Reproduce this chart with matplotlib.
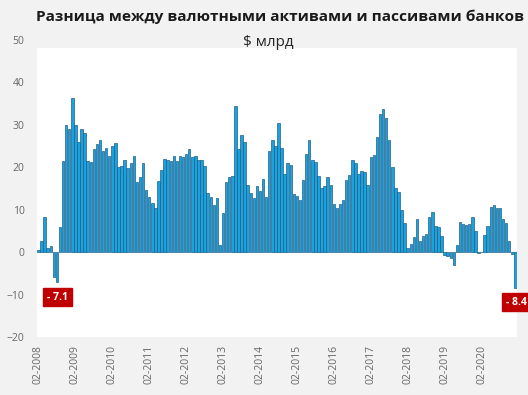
import numpy as np
import matplotlib
matplotlib.use("Agg")
import matplotlib.pyplot as plt

# monthly data, 02-2008 .. 01-2021, $ bn
v2008 = [0.5, 2.6, 8.3, 0.9, 1.5, -5.8, -7.1, 5.9, 21.5, 30, 29, 36.4]
v2009 = [30, 26, 29, 28, 21.4, 21.2, 24.4, 25.5, 26.5, 23.8, 24.5, 22.6]
v2010 = [25, 25.6, 20, 20.2, 21.6, 19.7, 20.9, 22.6, 16.4, 17.7, 21.1, 14.6]
v2011 = [12.9, 11.5, 10.5, 16.7, 19.3, 22, 21.8, 21.4, 22.6, 21.4, 22.6, 22.4]
v2012 = [23, 24.4, 22.3, 22.7, 21.6, 21.8, 20.2, 14, 13, 11, 12.8, 1.7]
v2013 = [9.1, 16.4, 17.6, 17.9, 34.4, 24.4, 27.5, 26, 15.7, 14, 12.8, 15.5]
v2014 = [14.4, 17.3, 13, 23.8, 26.5, 25, 30.5, 24.5, 18.4, 20.9, 20.5, 13.8]
v2015 = [13.3, 12.2, 16.9, 23, 26.4, 21.6, 21.3, 17.9, 15, 15.5, 17.7, 15.9]
v2016 = [11.3, 10.3, 11.3, 12.2, 17.1, 18.1, 21.6, 20.9, 18.5, 19.1, 18.9, 15.8]
v2017 = [22.3, 22.8, 27.1, 32.6, 33.6, 31.5, 26.5, 20.1, 15, 14.2, 9.9, 6.9]
v2018 = [0.9, 1.9, 3.5, 7.9, 2.7, 3.8, 4.2, 8.3, 9.5, 6.1, 6, 3.8]
v2019 = [-0.7, -0.9, -1.3, -3, 1.6, 7.1, 6.5, 6.4, 6.7, 8.3, 5, -0.3]
v2020 = [0.1, 4, 6.2, 10.7, 11.1, 10.5, 10.3, 7.7, 6.9, 2.6, -0.5, -8.4]

values = v2008 + v2009 + v2010 + v2011 + v2012 + v2013 + v2014 + v2015 + v2016 + v2017 + v2018 + v2019 + v2020
tick_labels = ["02-%d" % y for y in range(2008, 2021)]

plt.rcParams['font.family'] = ['Open Sans', 'DejaVu Sans']

fig = plt.figure(figsize=(5.28, 3.95), dpi=100)
fig.patch.set_facecolor('#f2f2f2')
ax = fig.add_axes([0.070, 0.147, 0.909, 0.752])
ax.set_facecolor('white')

x = np.arange(len(values))
ax.bar(x, values, width=0.8, color='#1ba1dc', edgecolor='#1d5f8c', linewidth=0.5)

ax.set_xlim(-0.5, 155.5)
ax.set_ylim(-20, 50)
ax.set_yticks(range(-20, 51, 10))
ax.set_xticks(range(0, 156, 12))
ax.set_xticklabels(tick_labels, rotation=90)
ax.tick_params(axis='both', length=0, labelsize=7.5, colors='#666666')
ax.tick_params(axis='y', pad=9)
ax.tick_params(axis='x', pad=6)
for s in ax.spines.values():
    s.set_visible(False)

# gray strip under the subtitle
ax.axhspan(48.1, 50, color='#f2f2f2', zorder=0.5, linewidth=0)

# callouts for the two negative extremes
ax.text(6.2, -10.6, "- 7.1", ha='center', va='center', color='white', fontsize=7.5,
        fontweight='bold', bbox=dict(boxstyle='square,pad=0.35', fc='#c00000', ec='#c00000'))
ax.text(155.2, -11.8, "- 8.4", ha='center', va='center', color='white', fontsize=7.5,
        fontweight='bold', clip_on=False,
        bbox=dict(boxstyle='square,pad=0.35', fc='#c00000', ec='#c00000'))

fig.text(0.53, 0.957, "Разница между валютными активами и пассивами банков",
         ha='center', va='center', fontsize=11.1, fontweight='bold', color='#1a1a1a')
fig.text(0.508, 0.893, "$ млрд", ha='center', va='center', fontsize=11, color='#262626')

fig.savefig("out.png", dpi=100, facecolor=fig.get_facecolor())
